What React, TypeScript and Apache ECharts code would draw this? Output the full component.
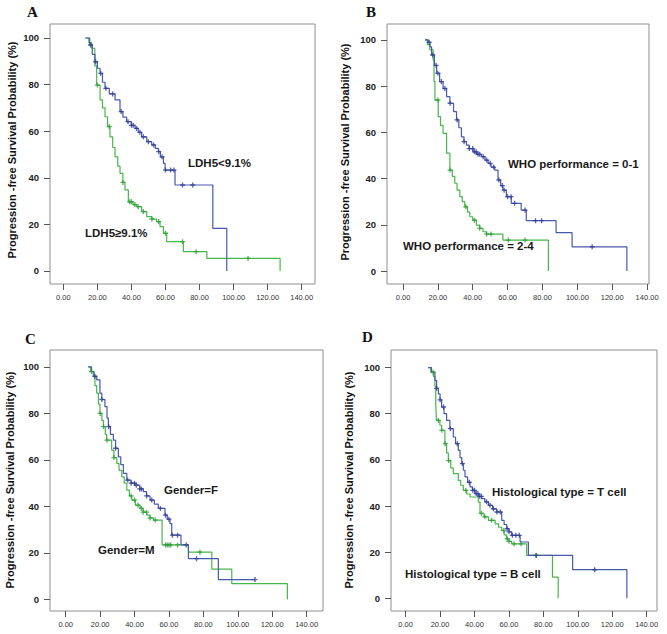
import React, { useEffect, useRef } from "react";
import * as echarts from "echarts";

const xTicks = [0, 20, 40, 60, 80, 100, 120, 140];
const yTicks = [0, 20, 40, 60, 80, 100];
const yAxisTitle = "Progression -free Survival Probability (%)";
const panelLetters = ["A", "B", "C", "D"];
const blueLabels = ["LDH5<9.1%", "WHO performance = 0-1", "Gender=F", "Histological type = T cell"];
const greenLabels = ["LDH5≥9.1%", "WHO performance = 2-4", "Gender=M", "Histological type = B cell"];

// Panel A
const aBlue = [[13,100],[15.5,97],[17,93],[18.6,89.8],[20,87],[21.6,84.8],[23,81],[24.5,78.4],[27,76],[30.4,73.4],[33.3,68.4],[35,66],[37.2,64.1],[40,62.5],[42.1,61.2],[44,59.5],[46,57.6],[49,55.5],[51.9,54.1],[54,52.6],[55.8,51.2],[57,49],[58.8,46.2],[59.8,43.3],[65.6,36.9],[87.8,18.3],[96,0]];
const aGreen = [[13,100],[15,98],[16.7,95.6],[18.5,88],[19.6,79.8],[21.6,73.4],[23,70],[24.5,66.2],[26,62],[27.4,57.6],[29,53],[30.4,49],[32,45],[33.3,41.9],[35,38],[36.2,34.8],[38.2,29.7],[41,28.5],[43.1,27.6],[46,25.5],[49,23.3],[52,22.3],[54.8,21.2],[56.8,19],[58.8,16.2],[60.7,12.6],[70.5,8.3],[84.3,5.4],[127.3,0]];
const aBlueCensor = [16,19,22,25,29,34,38,40,41,43,45,47,50,53,56,58,60,63,65,70,76];
const aGreenCensor = [20,27,35,39,40,42,44,47,52,56,60,70,78,108.5];

// Panel B
const bBlue = [[12.6,100],[14.5,99],[15.5,97],[16.4,93.5],[18,89],[19.3,85.6],[21,82],[23,79],[25,75.5],[26.9,72.6],[29,69],[30.7,65.4],[32,62],[33.5,58.1],[35,56],[36.4,54.5],[38,53],[40.2,51.6],[42.5,50.5],[45,49.5],[47,48],[48.8,46.6],[50.5,45],[52.6,43.7],[54.5,39.4],[56,37],[57.3,35],[59.3,32.2],[62.1,29.3],[67.8,26.4],[70.7,21.8],[87.8,16.6],[97,10.5],[128.4,0]];
const bGreen = [[12.6,100],[14,98],[15.4,95.7],[17.3,91.3],[17.8,82],[18.3,74],[20.2,66.8],[21.5,63],[23,59.6],[25,51],[26.9,43.7],[28.3,41],[29.7,38],[31,35],[32.6,32.2],[34,30],[35.4,27.8],[37,25.5],[38.3,23.5],[40,22],[42.1,19.9],[44,18.5],[45.9,17],[47.8,16],[57.3,13.4],[83.4,0]];
const bBlueCensor = [15,17,19,20,22,24,27,31,35,38,40,41,42,43,44,46,48,50,52,55,57,58,60,62,64,70,76,79.5,108.5];
const bGreenCensor = [20,27,36,41,44,48,50.5,60.4,70];

// Panel C
const cBlue = [[13.1,100],[15,98],[16.5,96],[18,94.4],[19.9,88.7],[21,86],[22.8,82.9],[24,78],[24.8,74.3],[26,71],[27.7,68.5],[29,65],[30.6,61.3],[32,58],[33.5,54.2],[35.5,51.3],[38,50],[40.3,49.1],[43,47.5],[45.1,46.3],[47,44.5],[49,42.7],[51.5,41],[53.8,39.1],[57.7,36.2],[59,34.5],[60.6,32.6],[61.6,27.6],[67,23.4],[71.3,17.5],[88.7,8.5],[110,8.5]];
const cGreen = [[13.1,100],[14.5,98],[16,95.8],[17,92],[18,88.7],[19,84],[19.9,80],[21,77],[21.9,74.3],[23,71],[23.8,68.5],[26.7,64.2],[28,61],[29.7,58.5],[31,55.5],[32.6,52.7],[34,50],[35.5,47],[37,44.5],[38.4,42.7],[40.5,40.5],[43.2,39.1],[45,37.5],[47.1,36.2],[49,35],[51,34.1],[56,23.4],[71.3,20.3],[84.9,13],[96.5,6.7],[128.8,0]];
const cBlueCensor = [17,21,25,29,36,38,40,41,43,44,47,50,55,58,60,62,65,70,76,110];
const cGreenCensor = [15,20,22,24,28,38,40,42,44,45,47,49,52,58,59,60,61,65,78];

// Panel D
const dBlue = [[13.1,100],[15,98],[17,94.4],[18,91],[19,88.6],[20,86],[20.9,82.9],[22.3,80],[23.8,77.1],[25.7,73.5],[27.7,69.9],[29,67],[30.6,64.1],[31.6,61],[32.6,58.4],[33.5,55.5],[34.5,52.6],[36,50.3],[37.4,48.3],[38.8,46.8],[40.3,45.4],[42.2,44.2],[44.2,43.2],[46,41.8],[48.1,40.3],[50.5,38.8],[52.9,37.4],[55.8,33.8],[57.2,32],[58.7,30.2],[60,28.8],[61.6,27.3],[66.5,24.4],[71.3,18.6],[97,12.4],[128.5,0]];
const dGreen = [[13.1,100],[14.6,98],[16.1,96.2],[17,91.9],[17.5,84],[17.9,77.1],[19.9,75],[20.9,72.8],[22.8,67],[23.8,63],[24.8,59.7],[26.2,56.5],[27.7,54],[30.6,51.1],[32,49],[33.5,46.8],[35.5,45.2],[37.4,43.9],[42.2,41.7],[43.2,36.8],[45.5,35.3],[48.1,33.8],[52,32.3],[54,30.8],[55.8,29.4],[57.2,27.5],[58.7,25.8],[60,24.7],[61.6,23.6],[70.3,18.6],[85.3,9.2],[88.6,0]];
const dBlueCensor = [18,20,22,26,30,33,37,39,40,41,42,43,44,47,49,51,53,55,59,60,62,64,66,75.7,109.8];
const dGreenCensor = [16,19,21,23,25,35,44,46,50,57,59,60,63,67,76];

const blueCurves = [aBlue, bBlue, cBlue, dBlue];
const greenCurves = [aGreen, bGreen, cGreen, dGreen];
const blueCensors = [aBlueCensor, bBlueCensor, cBlueCensor, dBlueCensor];
const greenCensors = [aGreenCensor, bGreenCensor, cGreenCensor, dGreenCensor];

// Layout (pixels & axis extents)
const layout = [
  { L: 50, R: 315, T: 24, B: 284, xmin: -7.81, xmax: 147.8, ymin: -5.58, ymax: 106.0, titleX: 12, titleY: 150, letter: [27, 12], blueLab: [188, 163], greenLab: [85, 233] },
  { L: 387, R: 649, T: 24, B: 284, xmin: -9.18, xmax: 141.1, ymin: -5.6, ymax: 106.9, titleX: 345, titleY: 152, letter: [366, 12], blueLab: [508, 164], greenLab: [403, 246] },
  { L: 50, R: 323, T: 350, B: 611, xmin: -9.12, xmax: 149.5, ymin: -5.04, ymax: 107.3, titleX: 10, titleY: 480, letter: [25, 339], blueLab: [164, 490], greenLab: [98, 550] },
  { L: 391, R: 657, T: 350, B: 611, xmin: -8.5, xmax: 146.0, ymin: -5.49, ymax: 107.6, titleX: 349, titleY: 480, letter: [362, 337], blueLab: [492, 492], greenLab: [405, 574] },
];

const BLUE = "#4858ad";
const GREEN = "#47b64b";
const BLUE_DARK = "#2e3c94";
const GREEN_DARK = "#2f9c3a";
const PLUS = "path://M2.2,0H3.8V2.2H6V3.8H3.8V6H2.2V3.8H0V2.2H2.2Z";

function levelAt(curve: number[][], t: number): number {
  let lv = curve[0][1];
  for (const p of curve) {
    if (p[0] <= t) lv = p[1];
  }
  return lv;
}

export default function App() {
  const ref = useRef<HTMLDivElement>(null);
  useEffect(() => {
    document.body.style.margin = "0";
    if (!ref.current) return;
    const chart = echarts.init(ref.current, undefined, { renderer: "svg" });
    const grid: any[] = [];
    const xAxis: any[] = [];
    const yAxis: any[] = [];
    const series: any[] = [];
    const graphic: any[] = [];
    layout.forEach((g, i) => {
      grid.push({
        left: g.L, top: g.T, width: g.R - g.L, height: g.B - g.T,
        show: true, borderColor: "#8f8f8f", borderWidth: 1, backgroundColor: "#fff",
      });
      xAxis.push({
        gridIndex: i, type: "value", min: g.xmin, max: g.xmax,
        axisLine: { show: false, onZero: false },
        axisTick: { show: true, length: 6, lineStyle: { color: "#555" }, customValues: xTicks },
        axisLabel: {
          customValues: xTicks, formatter: (v: number) => Number(v).toFixed(2),
          fontSize: 7.5, color: "#333", margin: 9, fontFamily: "Liberation Sans",
        },
        splitLine: { show: false },
      });
      yAxis.push({
        gridIndex: i, type: "value", min: g.ymin, max: g.ymax,
        axisLine: { show: false, onZero: false },
        axisTick: { show: true, length: 6, lineStyle: { color: "#555" }, customValues: yTicks },
        axisLabel: {
          customValues: yTicks, fontSize: 9.5, fontWeight: "bold", color: "#222",
          margin: 11, fontFamily: "Liberation Sans",
        },
        splitLine: { show: false },
      });
      series.push({
        type: "line", xAxisIndex: i, yAxisIndex: i, step: "end", data: greenCurves[i],
        showSymbol: false, lineStyle: { color: GREEN, width: 1.2 }, itemStyle: { color: GREEN }, z: 2,
      });
      series.push({
        type: "line", xAxisIndex: i, yAxisIndex: i, step: "end", data: blueCurves[i],
        showSymbol: false, lineStyle: { color: BLUE, width: 1.2 }, itemStyle: { color: BLUE }, z: 3,
      });
      series.push({
        type: "scatter", xAxisIndex: i, yAxisIndex: i, symbol: PLUS, symbolSize: 5,
        data: greenCensors[i].map((t) => [t, levelAt(greenCurves[i], t)]),
        itemStyle: { color: GREEN_DARK }, z: 4,
      });
      series.push({
        type: "scatter", xAxisIndex: i, yAxisIndex: i, symbol: PLUS, symbolSize: 5,
        data: blueCensors[i].map((t) => [t, levelAt(blueCurves[i], t)]),
        itemStyle: { color: BLUE_DARK }, z: 5,
      });
      graphic.push({
        type: "text", x: g.titleX, y: g.titleY, rotation: Math.PI / 2,
        style: {
          text: yAxisTitle, fontSize: 11, fontWeight: "bold", fill: "#111",
          fontFamily: "Liberation Sans", align: "center", verticalAlign: "middle",
        },
      });
      graphic.push({
        type: "text", x: g.letter[0], y: g.letter[1],
        style: {
          text: panelLetters[i], fontSize: 15, fontWeight: "bold", fill: "#111",
          fontFamily: "Liberation Serif", align: "left", verticalAlign: "middle",
        },
      });
      graphic.push({
        type: "text", x: g.blueLab[0], y: g.blueLab[1], z: 10,
        style: {
          text: blueLabels[i], fontSize: 11.5, fontWeight: "bold", fill: "#1a1a1a",
          fontFamily: "Liberation Sans", align: "left", verticalAlign: "middle",
        },
      });
      graphic.push({
        type: "text", x: g.greenLab[0], y: g.greenLab[1], z: 10,
        style: {
          text: greenLabels[i], fontSize: 11.5, fontWeight: "bold", fill: "#1a1a1a",
          fontFamily: "Liberation Sans", align: "left", verticalAlign: "middle",
        },
      });
    });
    chart.setOption({
      animation: false,
      backgroundColor: "#ffffff",
      grid, xAxis, yAxis, series, graphic,
    });
    return () => chart.dispose();
  }, []);
  return (
    <div
      ref={ref}
      style={{ position: "absolute", left: 0, top: 0, width: 667, height: 634 }}
    />
  );
}
